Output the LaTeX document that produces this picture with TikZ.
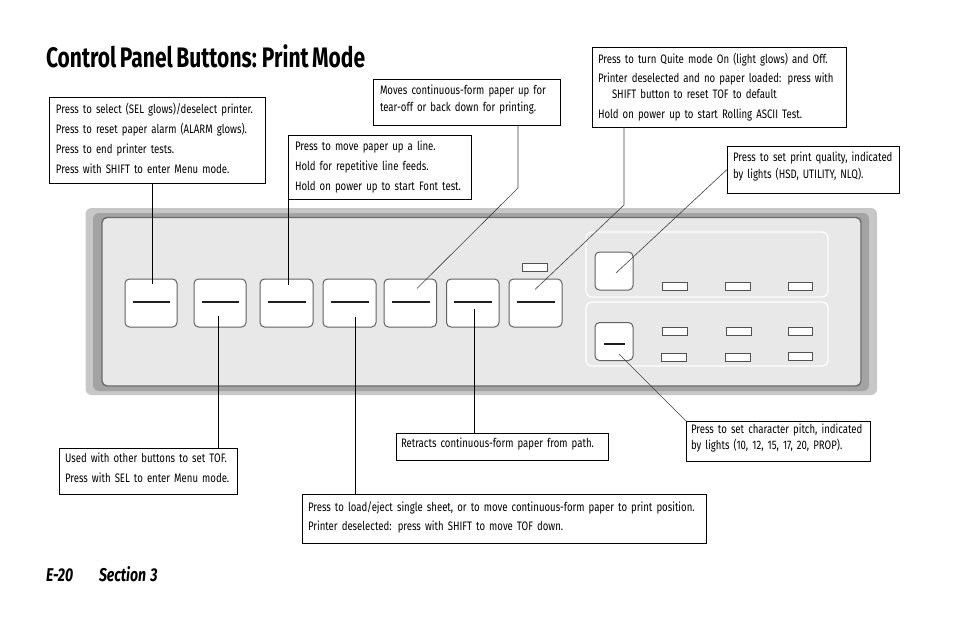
\documentclass[tikz,border=0pt]{standalone}
\usepackage{fontspec}
\setmainfont{Fira Sans}
\newfontfamily\calloutfont[FakeStretch=0.78,WordSpace=0.72]{Fira Sans}
\newfontfamily\titlefont[FakeStretch=0.745,WordSpace=0.7]{Fira Sans}
\newfontfamily\footerfont[FakeStretch=0.76,WordSpace=1.3]{Fira Sans}
\newcommand{\liftup}[1]{\rule[-#1]{0pt}{#1}}
\tikzset{
    every node/.style={outer sep=0pt},
    callout/.style 2 args={draw=black, line width=0.9pt, fill=white, anchor=north west, inner xsep=7pt, inner ysep=0pt,
        align=left, font=\calloutfont\fontsize{12.3}{16}\selectfont, text width=#1-14pt, minimum height=#2},
    leader/.style={black, line width=0.9pt},
    thinleader/.style={black!75, line width=0.6pt},
    keybtn/.style={draw=black!62, line width=1pt, fill=white, rounded corners=4.5pt, anchor=north west, inner sep=0pt},
    keybar/.style={black!88, line width=1.8pt},
    lamp/.style={draw=black!68, line width=0.9pt, fill=white, anchor=north west, inner sep=0pt, minimum width=24.5pt, minimum height=8pt},
    groupbox/.style={draw=white, line width=1.2pt, rounded corners=6pt, anchor=north west, inner sep=0pt},
}
\begin{document}
\begin{tikzpicture}[x=1pt, y=-1pt]
    \useasboundingbox (0,0) rectangle (954,618);

    % Heading and page footer
    \node[anchor=base west, inner sep=0pt, font=\titlefont\bfseries\fontsize{28.2}{32}\selectfont] (title) at (46,67) {Control Panel Buttons: Print Mode};
    \node[anchor=base west, inner sep=0pt, font=\footerfont\bfseries\itshape\fontsize{18.5}{20}\selectfont] (pagenum) at (46,581) {E-20};
    \node[anchor=base west, inner sep=0pt, font=\footerfont\bfseries\itshape\fontsize{18.5}{20}\selectfont] (section) at (99,581) {Section 3};

    % Panel body
    \fill[rounded corners=6pt, black!22] (85.5,208) rectangle (877,395);
    \fill[rounded corners=6pt, black!36] (93,213) rectangle (869,391);
    \draw[rounded corners=5pt, fill=black!9, draw=black!58, line width=1.4pt] (102,217.5) rectangle (861,386);

    % Groups on the right
    \node[groupbox, minimum width=242pt, minimum height=65pt] (qualgroup) at (586,232) {};
    \node[groupbox, minimum width=242pt, minimum height=64pt] (pitchgroup) at (586,302) {};

    % Row of keys, each with its bar
    \foreach \name/\xleft/\wide in {sel/125/52, shift/194/52, lf/260/53, load/323/53, tear/384/52.5, retract/446.5/52.5, quiet/509/53} {
        \node[keybtn, minimum width=\wide pt, minimum height=48pt] (\name) at (\xleft,279) {};
        \draw[keybar] ([xshift=7.5pt, yshift=1pt]\name.west) -- ([xshift=-7pt, yshift=1pt]\name.east);
    }

    % Two square keys
    \node[keybtn, minimum width=38pt, minimum height=38pt] (qual) at (595,252) {};
    \node[keybtn, minimum width=38pt, minimum height=38pt] (pitch) at (595,322.5) {};
    \draw[keybar] (604,344) -- (625,344);

    % Lamps
    \node[lamp, minimum width=24.5pt] (quietlamp) at (522.5,263) {};
    \node[lamp, line width=1pt] (hsd) at (662.5,282) {};
    \node[lamp] (utility) at (725.5,282) {};
    \node[lamp, line width=1pt] (nlq) at (788,282) {};
    \node[lamp] (pa) at (662.5,327) {};
    \node[lamp] (pb) at (726.5,327) {};
    \node[lamp, line width=1pt] (pc) at (788,327) {};
    \node[lamp] (pd) at (661.5,353) {};
    \node[lamp] (pe) at (725.5,353) {};
    \node[lamp, line width=1pt] (pf) at (788,352) {};

    % Callouts
    \node[callout={216pt}{86pt}] (selbox) at (49,97) {Press to select (SEL glows)/deselect printer.\\[3.8pt]Press to reset paper alarm (ALARM glows).\\[3.8pt]Press to end printer tests.\\[3.8pt]Press with SHIFT to enter Menu mode.\liftup{3.5pt}};
    \node[callout={183pt}{64pt}] (lfbox) at (288,135) {Press to move paper up a line.\\[3.8pt]Hold for repetitive line feeds.\\[3.8pt]Hold on power up to start Font test.};
    \node[callout={187pt}{46pt}] (tearbox) at (373,79) {Moves continuous-form paper up for\\[1pt]tear-off or back down for printing.\liftup{8pt}};
    \node[callout={256pt}{80pt}, inner xsep=6pt] (quietbox) at (592,47) {Press to turn Quite mode On (light glows) and Off.\\[3.8pt]Printer deselected and no paper loaded: press with\\\hspace*{14pt}SHIFT button to reset TOF to default\\[3.8pt]Hold on power up to start Rolling ASCII Test.};
    \node[callout={174pt}{47pt}, inner xsep=6pt] (qualbox) at (727,146) {\mbox{Press to set print quality, indicated}\\[1pt]by lights (HSD, UTILITY, NLQ).\liftup{9pt}};
    \node[callout={180pt}{46pt}, inner xsep=6pt] (tofbox) at (59,448) {Used with other buttons to set TOF.\\[3.8pt]Press with SEL to enter Menu mode.\liftup{6pt}};
    \node[callout={406pt}{49pt}, inner xsep=6pt] (loadbox) at (302,494) {Press to load/eject single sheet, or to move continuous-form paper to print position.\\[3.8pt]Printer deselected: press with SHIFT to move TOF down.\liftup{5pt}};
    \node[callout={216pt}{27pt}, inner xsep=5pt] (retractbox) at (396,433) {Retracts continuous-form paper from path.\liftup{7pt}};
    \node[callout={188pt}{40pt}, inner xsep=5pt] (pitchbox) at (686,421) {Press to set character pitch, indicated\\by lights (10, 12, 15, 17, 20, PROP).\liftup{9pt}};

    % Ends of the leaders
    \coordinate (selend) at (152,284);
    \coordinate (shiftend) at (218,316);
    \coordinate (lfend) at (288.5,285);
    \coordinate (loadend) at (355.5,317);
    \coordinate (tearend) at (417,288.5);
    \coordinate (tearbend) at (518,188);
    \coordinate (retractend) at (474.5,309);
    \coordinate (quietend) at (535,289.5);
    \coordinate (quietbend) at (624,205);
    \coordinate (qualend) at (616,273);
    \coordinate (pitchend) at (619,354);

    % Leaders
    \draw[leader] (selbox.south -| selend) -- (selend);
    \draw[leader] (lfbox.south -| lfend) -- (lfend);
    \draw[leader] (shiftend) -- (tofbox.north -| shiftend);
    \draw[leader] (loadend) -- (loadbox.north -| loadend);
    \draw[leader] (retractend) -- (retractbox.north -| retractend);
    \draw[thinleader] (tearbox.south -| tearbend) -- (tearbend) -- (tearend);
    \draw[thinleader] (quietbox.south -| quietbend) -- (quietbend) -- (quietend);
    \draw[thinleader] (qualbox.west) -- (qualend);
    \draw[thinleader] (pitchbox.north west) -- (pitchend);
\end{tikzpicture}
\end{document}
